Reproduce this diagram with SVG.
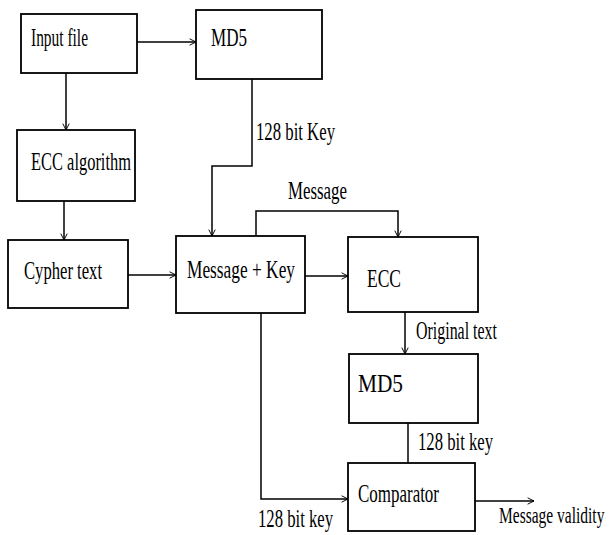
<svg xmlns="http://www.w3.org/2000/svg" width="611" height="535" viewBox="0 0 611 535">
<defs>
<marker id="arr" viewBox="0 0 10 10" refX="9" refY="5" markerWidth="8" markerHeight="8" markerUnits="userSpaceOnUse" orient="auto">
<path d="M1,1 L9,5 L1,9" fill="none" stroke="#000" stroke-width="1.2"/>
</marker>
<style>
.box{fill:#fff;stroke:#000;stroke-width:1.8}
.ln{fill:none;stroke:#000;stroke-width:1.5}
text{font-family:"Liberation Serif","Times New Roman",serif;font-size:25px;fill:#000}
</style>
</defs>
<rect width="611" height="535" fill="#fff"/>
<g id="input">
<rect class="box" x="21" y="14" width="116" height="59"/>
<text x="31" y="46" textLength="57" lengthAdjust="spacingAndGlyphs">Input file</text>
</g>
<g id="md5a">
<rect class="box" x="196" y="10" width="126" height="69"/>
<text x="211" y="46" textLength="36" lengthAdjust="spacingAndGlyphs">MD5</text>
</g>
<g id="eccalg">
<rect class="box" x="17" y="130" width="118" height="71"/>
<text x="31" y="170" textLength="100" lengthAdjust="spacingAndGlyphs">ECC algorithm</text>
</g>
<g id="cypher">
<rect class="box" x="8" y="240" width="120" height="68"/>
<text x="24" y="279" textLength="78" lengthAdjust="spacingAndGlyphs">Cypher text</text>
</g>
<g id="msgkey">
<rect class="box" x="176" y="236" width="129" height="77"/>
<text x="187" y="278" textLength="108" lengthAdjust="spacingAndGlyphs">Message + Key</text>
</g>
<g id="ecc">
<rect class="box" x="348" y="237" width="130" height="75"/>
<text x="367" y="287" textLength="34" lengthAdjust="spacingAndGlyphs">ECC</text>
</g>
<g id="md5b">
<rect class="box" x="349" y="354" width="129" height="69"/>
<text x="358" y="392" textLength="45" lengthAdjust="spacingAndGlyphs">MD5</text>
</g>
<g id="comparator">
<rect class="box" x="348" y="463" width="127" height="68"/>
<text x="358" y="502" textLength="81" lengthAdjust="spacingAndGlyphs">Comparator</text>
</g>
<g id="connectors">
<path class="ln" d="M137,42 H196" marker-end="url(#arr)"/>
<path class="ln" d="M66,73 V130" marker-end="url(#arr)"/>
<path class="ln" d="M64,201 V240" marker-end="url(#arr)"/>
<path class="ln" d="M252,79 V166 H212 V236" marker-end="url(#arr)"/>
<path class="ln" d="M128,275 H176" marker-end="url(#arr)"/>
<path class="ln" d="M305,276 H348" marker-end="url(#arr)"/>
<path class="ln" d="M256,236 V211 H398 V237" marker-end="url(#arr)"/>
<path class="ln" d="M405,312 V354" marker-end="url(#arr)"/>
<path class="ln" d="M408,423 V463"/>
<path class="ln" d="M261,313 V499 H348" marker-end="url(#arr)"/>
<path class="ln" d="M475,501 H534" marker-end="url(#arr)"/>
<text x="256" y="140" textLength="79" lengthAdjust="spacingAndGlyphs">128 bit Key</text>
<text x="288" y="199" textLength="59" lengthAdjust="spacingAndGlyphs">Message</text>
<text x="416" y="339" textLength="81" lengthAdjust="spacingAndGlyphs">Original text</text>
<text x="418" y="450" textLength="75" lengthAdjust="spacingAndGlyphs">128 bit key</text>
<text x="258" y="527" textLength="75" lengthAdjust="spacingAndGlyphs">128 bit key</text>
<text transform="translate(499,523) scale(1,1.5)" style="font-size:15.5px">Message validity</text>
</g>
</svg>
